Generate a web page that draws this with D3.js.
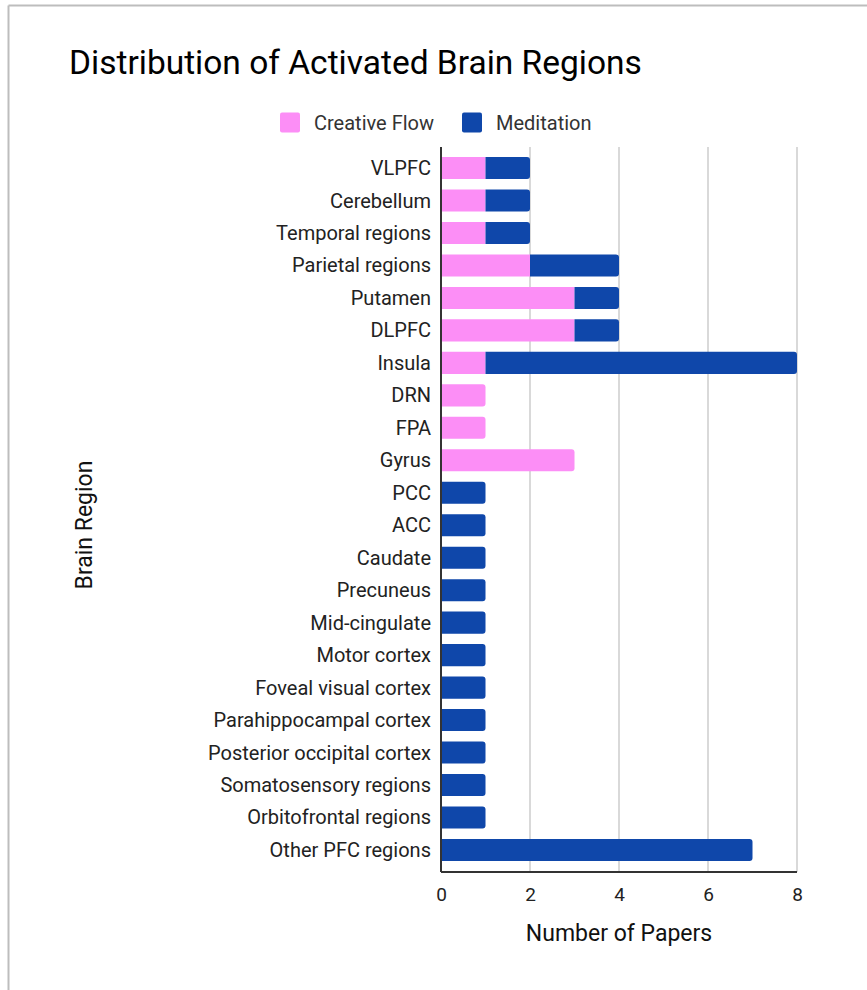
<!DOCTYPE html>
<html>
<head>
<meta charset="utf-8">
<script src="https://cdn.jsdelivr.net/npm/d3@7"></script>
<style>
  html, body { margin: 0; padding: 0; background: #fff; }
  svg { display: block; font-family: Roboto, "Noto Sans", sans-serif; }
</style>
</head>
<body>
<svg id="chart" width="867" height="990"></svg>
<script>
const categories = ["VLPFC", "Cerebellum", "Temporal regions", "Parietal regions", "Putamen", "DLPFC", "Insula", "DRN", "FPA", "Gyrus", "PCC", "ACC", "Caudate", "Precuneus", "Mid-cingulate", "Motor cortex", "Foveal visual cortex", "Parahippocampal cortex", "Posterior occipital cortex", "Somatosensory regions", "Orbitofrontal regions", "Other PFC regions"];
const creativeFlow = [1, 1, 1, 2, 3, 3, 1, 1, 1, 3, 0, 0, 0, 0, 0, 0, 0, 0, 0, 0, 0, 0];
const meditation   = [1, 1, 1, 2, 1, 1, 7, 0, 0, 0, 1, 1, 1, 1, 1, 1, 1, 1, 1, 1, 1, 7];
const seriesNames = ["Creative Flow", "Meditation"];
const seriesColors = ["#fc8ef6", "#0f47aa"];
const xTicks = [0, 2, 4, 6, 8];
const chartTitle = "Distribution of Activated Brain Regions";
const xTitle = "Number of Papers";
const yTitle = "Brain Region";

const svg = d3.select("#chart");

// frame (left and top border)
svg.append("line").attr("x1", 8.5).attr("x2", 8.5).attr("y1", 5.5).attr("y2", 990)
  .attr("stroke", "#bdbdbd").attr("stroke-width", 2);
svg.append("line").attr("x1", 8.5).attr("x2", 867).attr("y1", 5.5).attr("y2", 5.5)
  .attr("stroke", "#bdbdbd").attr("stroke-width", 2);

const plotLeft = 441, plotRight = 797, plotTop = 147, plotBottom = 872;
const x = d3.scaleLinear().domain([0, 8]).range([plotLeft, plotRight]);
const y = d3.scaleBand().domain(categories).range([151.8, 866.2]).paddingInner(0.32).paddingOuter(0.16);

// gridlines
svg.append("g").selectAll("line").data(xTicks.slice(1)).join("line")
  .attr("x1", d => x(d)).attr("x2", d => x(d)).attr("y1", plotTop).attr("y2", plotBottom)
  .attr("stroke", "#cccccc").attr("stroke-width", 1.5);

// stacked data
const rows = categories.map((c, i) => ({ cat: c, vals: [creativeFlow[i], meditation[i]] }));
const stack = d3.stack().keys([0, 1]).value((d, k) => d.vals[k]);
const layers = stack(rows);

function barPath(x0, x1, y0, h, roundRight) {
  const r = Math.min(3, (x1 - x0));
  if (!roundRight) return `M${x0},${y0}H${x1}V${y0 + h}H${x0}Z`;
  return `M${x0},${y0}H${x1 - r}Q${x1},${y0} ${x1},${y0 + r}V${y0 + h - r}Q${x1},${y0 + h} ${x1 - r},${y0 + h}H${x0}Z`;
}

layers.forEach((layer, k) => {
  svg.append("g").selectAll("path").data(layer.filter(d => d[1] > d[0])).join("path")
    .attr("fill", seriesColors[k])
    .attr("d", d => {
      const isEnd = k === layers.length - 1 || d.data.vals.slice(k + 1).every(v => v === 0);
      return barPath(x(d[0]), x(d[1]), y(d.data.cat), y.bandwidth(), isEnd);
    });
});

// y axis line
svg.append("line").attr("x1", plotLeft).attr("x2", plotLeft).attr("y1", plotTop).attr("y2", plotBottom)
  .attr("stroke", "#333").attr("stroke-width", 2);
// x axis line
svg.append("line").attr("x1", plotLeft).attr("x2", plotRight).attr("y1", plotBottom).attr("y2", plotBottom)
  .attr("stroke", "#333").attr("stroke-width", 2);

// y labels
const yAxis = d3.axisLeft(y).tickSize(0).tickPadding(10);
const gy = svg.append("g").attr("transform", `translate(${plotLeft},0)`).call(yAxis);
gy.select(".domain").remove();
gy.selectAll("text").attr("font-size", 20).attr("fill", "#222").attr("font-family", "Roboto").attr("dy", "0.35em");

// x tick labels
const xAxis = d3.axisBottom(x).tickValues(xTicks).tickSize(0).tickPadding(16).tickFormat(d3.format("d"));
const gx = svg.append("g").attr("transform", `translate(0,${plotBottom})`).call(xAxis);
gx.select(".domain").remove();
gx.selectAll("text").attr("font-size", 19).attr("fill", "#222").attr("font-family", "Roboto");

// title
svg.append("text").attr("x", 69).attr("y", 73.5).attr("font-size", 33.5).attr("fill", "#000").text(chartTitle);

// axis titles
svg.append("text").attr("x", (plotLeft + plotRight) / 2).attr("y", 941).attr("text-anchor", "middle")
  .attr("font-size", 23).attr("fill", "#111").text(xTitle);
svg.append("text").attr("transform", "translate(92,525) rotate(-90)").attr("text-anchor", "middle")
  .attr("font-size", 23).attr("fill", "#111").text(yTitle);

// legend
const legendItems = [{ x: 280, tx: 314 }, { x: 462, tx: 496 }];
seriesNames.forEach((n, i) => {
  svg.append("rect").attr("x", legendItems[i].x).attr("y", 112.5).attr("width", 20).attr("height", 20)
    .attr("rx", 2).attr("fill", seriesColors[i]);
  svg.append("text").attr("x", legendItems[i].tx).attr("y", 130).attr("font-size", 20)
    .attr("fill", "#333").text(n);
});
</script>
</body>
</html>
